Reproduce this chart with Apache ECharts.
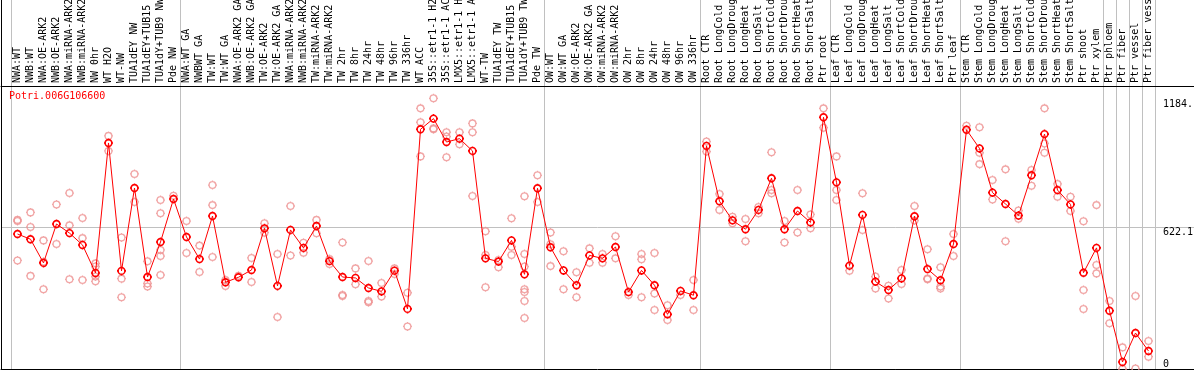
<!DOCTYPE html>
<html>
<head>
<meta charset="utf-8">
<script src="https://cdn.jsdelivr.net/npm/echarts@6/dist/echarts.min.js"></script>
<style>
html,body{margin:0;padding:0;background:#fff;}
#c{width:1194px;height:370px;}
</style>
</head>
<body>
<div id="c"></div>
<script>
var title = 'Potri.006G106600';
var categories = [
'NWA:WT','NWB:WT','NWA:OE-ARK2','NWB:OE-ARK2','NWA:miRNA-ARK2','NWB:miRNA-ARK2','NW 0hr','WT H2O','WT-NW','TUA1dEY NW','TUA1dEY+TUB15','TUA1dY+TUB9 NW','Pde NW',
'NWA:WT GA','NWBWT GA','TW:WT','TW:WT GA','NWA:OE-ARK2 GA','NWB:OE-ARK2 GA','TW:OE-ARK2','TW:OE-ARK2 GA','NWA:miRNA-ARK2','NWB:miRNA-ARK2','TW:miRNA-ARK2','TW:miRNA-ARK2',
'TW 2hr','TW 8hr','TW 24hr','TW 48hr','TW 96hr','TW 336hr','WT ACC','35S::etr1-1 H2','35S::etr1-1 AC','LMX5::etr1-1 H','LMX5::etr1-1 A','WT-TW','TUA1dEY TW','TUA1dEY+TUB15','TUA1dY+TUB9 TW','Pde TW',
'OW:WT','OW:WT GA','OW:OE-ARK2','OW:OE-ARK2 GA','OW:miRNA-ARK2','OW:miRNA-ARK2','OW 2hr','OW 8hr','OW 24hr','OW 48hr','OW 96hr','OW 336hr',
'Root CTR','Root LongCold','Root LongDroug','Root LongHeat','Root LongSalt','Root ShortCold','Root ShortDrou','Root ShortHeat','Root ShortSalt','Ptr root',
'Leaf CTR','Leaf LongCold','Leaf LongDroug','Leaf LongHeat','Leaf LongSalt','Leaf ShortCold','Leaf ShortDrou','Leaf ShortHeat','Leaf ShortSalt','Ptr leaf',
'Stem CTR','Stem LongCold','Stem LongDroug','Stem LongHeat','Stem LongSalt','Stem ShortCold','Stem ShortDrou','Stem ShortHeat','Stem ShortSalt','Ptr shoot',
'Ptr xylem','Ptr phloem','Ptr fiber','Ptr vessel','Ptr fiber vessel',
'','',''
];
// group boundaries (category index where a new group starts)
var groupStarts = [0, 13, 41, 53, 63, 73, 84, 85, 86, 87, 88];

var means = [
593,570,466,637,597,545,422,993,431,795,404,558,747,
580,483,672,381,403,435,618,365,611,532,628,
474,404,400,356,341,432,264,1053,1100,997,1012,958,486,472,565,416,794,
535,433,368,499,486,536,338,433,368,240,343,324,
980,737,653,614,699,838,614,694,644,1106,
820,454,677,384,347,398,671,439,390,549,
1051,969,775,725,674,851,1032,786,723,423,
532,256,31,158,79
];
var replicates = [
[655,650,477],[688,624,409],[565,471,350],[723,549],[773,631,394],[663,575,391],[464,450,406,385],[1024,958],[578,397,315],[857,734],[473,376,362],[742,684,523,496,413],[761],
[650,510],[542,426],[808,720,492],[391,365],[410],[488,382],[640,599],[505,228],[716,499],[555,511],[655,596],
[483,461],[556,325,321],[442,372],[474,299,293],[378,318],[442,417],[335,187],[1145,1084,934],[1189,1057,1053],[1040,1021,930],[1040,987],[1079,1040,760],[605,501,359],[479,447],[662,537,501],[759,505,450,350,338,299,224],[851,734],
[600,548,452],[517,350],[425,315],[530,467],[505,467],[583,486],[325],[505,482,315],[510,332,259],[280,215],[325],[391,259],
[999,955],[769,699],[669,640],[659,561],[712,684],[952,786,772],[650,556],[786,600],[679,618],[1145,1060],
[934,786,742],[432],[772,611],[406,354],[366,310],[435,373],[716,652],[526,398,394],[447,362,354],[593,496],
[1069],[1062,950,900],[830,745],[877,561],[696,660],[874,805],[1145,991,950],[813,757],[757,694],[649,347,264],
[720,457,420],[299,201],[95,0],[321,2],[123,54]
];
var yTickValues = [0, 622.1, 1184];
var yTickLabels = ['0', '622.1', '1184.'];
var yMax = 1621;

var repData = [];
replicates.forEach(function (arr, i) {
  arr.forEach(function (v) { repData.push([i, v]); });
});

var MONO = '"DejaVu Sans Mono", "Liberation Mono", monospace';
var SYM = 'path://M8,2A6,6,0,1,1,7.99,2ZM8,0L8,2M8,14L8,16M0,8L2,8M14,8L16,8';

var chart = echarts.init(document.getElementById('c'), null, {renderer: 'canvas'});
chart.setOption({
  animation: false,
  backgroundColor: '#fff',
  title: {
    text: title, left: 9, top: 91, padding: 0,
    textStyle: {color: '#ff0000', fontSize: 10, fontFamily: MONO, fontWeight: 'normal'}
  },
  grid: [
    {left: 1, right: 0, top: 0, bottom: 1, containLabel: false, outerBoundsMode: 'none'},
    {left: 11, right: 0, top: 0, bottom: 1, containLabel: false, outerBoundsMode: 'none'}
  ],
  xAxis: [
    {gridIndex: 0, type: 'value', min: 0, max: 1, position: 'bottom',
     axisLine: {show: true, onZero: false, lineStyle: {color: '#000', width: 1}},
     axisTick: {show: false}, axisLabel: {show: false}, splitLine: {show: false}},
    {gridIndex: 0, type: 'value', min: 0, max: 1, position: 'top', offset: -86,
     axisLine: {show: true, onZero: false, lineStyle: {color: '#000', width: 1}},
     axisTick: {show: false}, axisLabel: {show: false}, splitLine: {show: false}},
    {gridIndex: 1, type: 'category', data: categories, position: 'top', offset: -86,
     boundaryGap: true,
     axisLine: {show: false}, axisTick: {show: false},
     axisLabel: {interval: 0, rotate: 90, margin: 3, color: '#000', fontSize: 10, fontFamily: MONO},
     splitLine: {show: true, interval: function (idx) { return groupStarts.indexOf(idx) >= 0; },
                 lineStyle: {color: '#c0c0c0', width: 1}}}
  ],
  yAxis: [
    {gridIndex: 0, type: 'value', min: 0, max: yMax, interval: 622.1, position: 'left',
     axisLine: {show: true, onZero: false, lineStyle: {color: '#000', width: 1}},
     axisTick: {show: false}, axisLabel: {show: false},
     splitLine: {show: true, showMinLine: false, showMaxLine: false, lineStyle: {color: '#c0c0c0', width: 1}}},
    {gridIndex: 0, type: 'value', min: 0, max: yMax, position: 'right', offset: -31,
     axisLine: {show: false, onZero: false}, axisTick: {show: false}, splitLine: {show: false},
     axisLabel: {customValues: yTickValues, margin: 0, color: '#000', fontSize: 10, fontFamily: MONO,
                 verticalAlign: 'top', verticalAlignMinLabel: 'bottom',
                 formatter: function (v) { var i = yTickValues.indexOf(v); return i >= 0 ? yTickLabels[i] : ''; }}},
    {gridIndex: 1, type: 'value', min: 0, max: yMax, show: false}
  ],
  series: [
    {type: 'scatter', xAxisIndex: 2, yAxisIndex: 2, data: repData, symbol: SYM, symbolSize: 9, z: 2,
     itemStyle: {color: 'rgba(0,0,0,0)', borderColor: '#ee9090', borderWidth: 1.3},
     emphasis: {disabled: true}, silent: true},
    {type: 'line', xAxisIndex: 2, yAxisIndex: 2, data: means, symbol: SYM, symbolSize: 9, z: 3,
     showAllSymbol: true,
     lineStyle: {color: '#ff0000', width: 1},
     itemStyle: {color: 'rgba(0,0,0,0)', borderColor: '#ff0000', borderWidth: 1.6},
     emphasis: {disabled: true}, silent: true}
  ]
});
</script>
</body>
</html>
